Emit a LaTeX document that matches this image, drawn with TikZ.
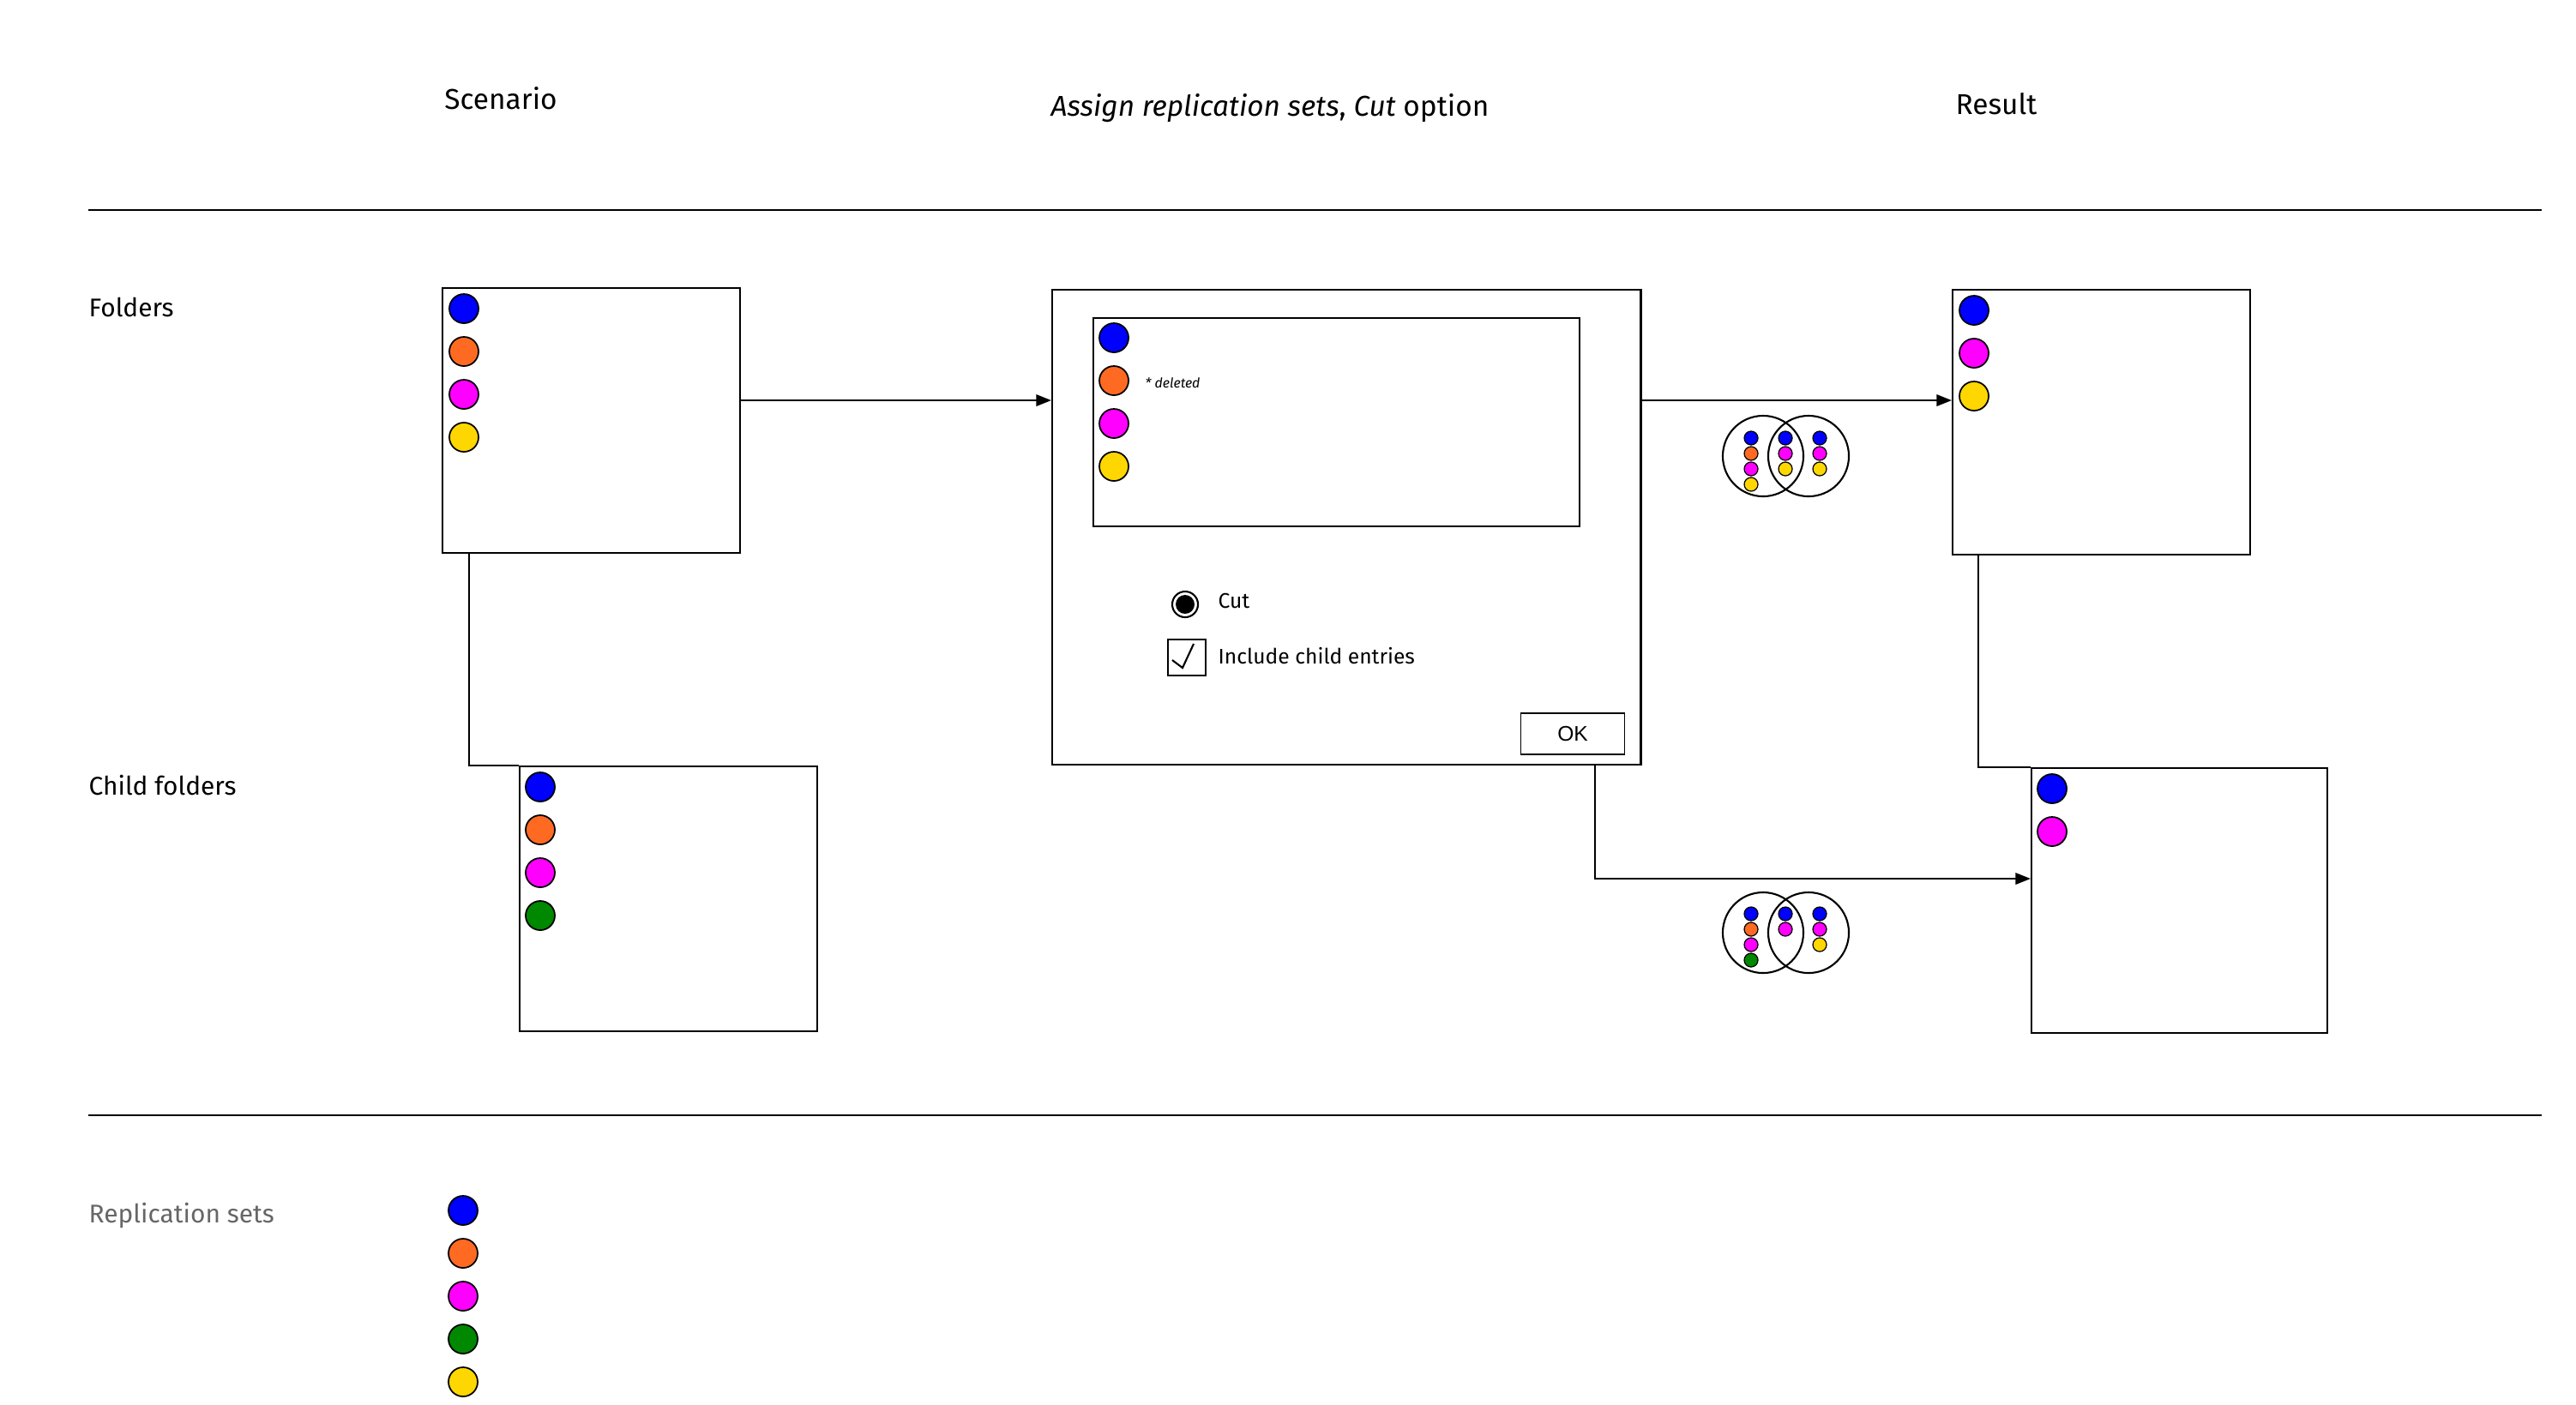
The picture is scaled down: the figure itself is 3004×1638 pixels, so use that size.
\documentclass[tikz,border=0pt]{standalone}
\usepackage{fontspec}
\setmainfont{Fira Sans}
\newfontfamily\buttonfont{Liberation Sans}
\usetikzlibrary{
    arrows.meta,
    positioning,
    calc
}
\definecolor{setblue}{HTML}{0000FF}
\definecolor{setorange}{HTML}{FF6A22}
\definecolor{setmagenta}{HTML}{FF00FF}
\definecolor{setgreen}{HTML}{008800}
\definecolor{setyellow}{HTML}{FFD700}
\definecolor{labelgray}{HTML}{666666}
\tikzset{
    % --- Folder box (scenario / result) ---
    folder box/.style = {
        rectangle, draw, line width=0.6pt, anchor=north west,
        minimum width=3.47cm, minimum height=3.09cm, inner sep=0pt
    },
    % --- Dialog window ---
    dialog/.style = {
        rectangle, draw, line width=0.6pt, anchor=north west,
        minimum width=6.86cm, minimum height=5.54cm, inner sep=0pt
    },
    % --- Replication set dot ---
    set dot/.style = {
        circle, draw, line width=0.5pt,
        minimum size=0.34cm, inner sep=0pt
    },
    % --- Small dot inside the overlap sketch ---
    mini dot/.style = {
        set dot, line width=0.35pt, minimum size=0.16cm
    },
    % --- Overlap circle ---
    overlap/.style = {
        circle, draw, line width=0.6pt,
        minimum size=0.94cm, inner sep=0pt
    },
    % --- Column heading ---
    heading/.style = {
        font=\fontsize{9.5}{11}\selectfont
    },
    % --- Row label (left margin) ---
    row label/.style = {
        anchor=west, font=\fontsize{8.5}{10}\selectfont
    },
    % --- Text inside the dialog ---
    dlg text/.style = {
        anchor=west, font=\fontsize{7}{8}\selectfont, inner sep=0pt
    },
    % --- Connector with arrow ---
    flow/.style = {
        -{Triangle[length=5pt, width=3.8pt]}, line width=0.6pt
    },
    % --- Plain connector ---
    link/.style = {
        line width=0.6pt
    }
}

\begin{document}
\begin{tikzpicture}[x=0.01cm, y=-0.01cm]

\useasboundingbox (0,0) rectangle (3004,1638);

% ---------------------------------------------------------
% Column headings and rules
% ---------------------------------------------------------
\node[heading] (hScenario) at (584,115) {Scenario};
\node[heading] (hAssign) at (1481,126) {\textit{Assign replication sets}, \textit{Cut} option};
\node[heading] (hResult) at (2328,121) {Result};

\draw[link] (103,245) -- (2964,245);
\draw[link] (103,1301) -- (2964,1301);

% Row labels
\node[row label, inner sep=0pt] (lFolders) at (103,358) {Folders};
\node[row label, inner sep=0pt] (lChild) at (103,916) {Child folders};
\node[row label, inner sep=0pt, text=labelgray] (lSets) at (103,1418) {Replication sets};

% ---------------------------------------------------------
% Scenario
% ---------------------------------------------------------
\node[folder box] (folders) at (515,335) {};
\node[folder box] (child) at (605,893) {};

\foreach \c [count=\i from 0] in {setblue,setorange,setmagenta,setyellow}
    \node[set dot, fill=\c] (fdot\i) at ($(folders.north west)+(26,25+50*\i)$) {};
\foreach \c [count=\i from 0] in {setblue,setorange,setmagenta,setgreen}
    \node[set dot, fill=\c] (cdot\i) at ($(child.north west)+(25,25+50*\i)$) {};

\coordinate (fBranch) at (547,0);
\draw[link] (folders.south -| fBranch) |- (child.north west);

% ---------------------------------------------------------
% Dialog
% ---------------------------------------------------------
\node[dialog] (dlg) at (1226,337) {};
\node[rectangle, draw, line width=0.6pt, anchor=north west,
      minimum width=5.67cm, minimum height=2.43cm, inner sep=0pt]
    (list) at (1274,370) {};

\foreach \c [count=\i from 0] in {setblue,setorange,setmagenta,setyellow}
    \node[set dot, fill=\c] (ldot\i) at ($(list.north west)+(25,24+50*\i)$) {};
\node[dlg text, font=\fontsize{4.5}{5}\selectfont\itshape] (deleted)
    at (1335,447) {* deleted};

% Cut option
\node[circle, draw, line width=0.6pt, minimum size=0.3cm, inner sep=0pt] (radio) at (1382,705) {};
\node[circle, fill=black, minimum size=0.22cm, inner sep=0pt] at (radio) {};
\node[dlg text] (cut) at (1420,701) {Cut};

% Include child entries
\node[rectangle, draw, line width=0.6pt, minimum width=0.44cm, minimum height=0.42cm,
      inner sep=0pt] (check) at (1384,767) {};
\draw[line width=0.6pt] ($(check.center)+(-17,3)$) -- ($(check.center)+(-5,12)$)
    -- ($(check.center)+(8,-16)$);
\node[dlg text] (child entries) at (1420,765) {Include child entries};

% OK button
\node[rectangle, draw, line width=0.5pt, minimum width=1.21cm, minimum height=0.48cm,
      font=\buttonfont\fontsize{7}{8}\selectfont] (ok) at (1834,856) {OK};

% ---------------------------------------------------------
% Result
% ---------------------------------------------------------
\node[folder box] (result) at (2276,337) {};
\node[folder box, minimum width=3.45cm] (resultChild) at (2368,895) {};

\foreach \c [count=\i from 0] in {setblue,setmagenta,setyellow}
    \node[set dot, fill=\c] (rdot\i) at ($(result.north west)+(26,25+50*\i)$) {};
\foreach \c [count=\i from 0] in {setblue,setmagenta}
    \node[set dot, fill=\c] (rcdot\i) at ($(resultChild.north west)+(25,25+50*\i)$) {};

\coordinate (rBranch) at (2307,0);
\draw[link] (result.south -| rBranch) |- (resultChild.north west);

% ---------------------------------------------------------
% Data flow arrows
% ---------------------------------------------------------
\coordinate (topRow) at (0,467);
\coordinate (lowRow) at (1860,1025);

\draw[flow] (folders.east |- topRow) -- (dlg.west |- topRow);
\draw[flow] (dlg.east |- topRow) -- (result.west |- topRow);
\draw[flow] (dlg.south -| lowRow) |- (resultChild.west |- lowRow);

% ---------------------------------------------------------
% Overlap sketches
% ---------------------------------------------------------
\node[overlap] (vennA1) at (2056,532) {};
\node[overlap] (vennA2) at (2109,532) {};
\foreach \c [count=\i from 0] in {setblue,setorange,setmagenta,setyellow}
    \node[mini dot, fill=\c] at (2042,511+18*\i) {};
\foreach \c [count=\i from 0] in {setblue,setmagenta,setyellow} {
    \node[mini dot, fill=\c] at (2082,511+18*\i) {};
    \node[mini dot, fill=\c] at (2122,511+18*\i) {};
}

\node[overlap] (vennB1) at (2056,1088) {};
\node[overlap] (vennB2) at (2109,1088) {};
\foreach \c [count=\i from 0] in {setblue,setorange,setmagenta,setgreen}
    \node[mini dot, fill=\c] at (2042,1066+18*\i) {};
\foreach \c [count=\i from 0] in {setblue,setmagenta}
    \node[mini dot, fill=\c] at (2082,1066+18*\i) {};
\foreach \c [count=\i from 0] in {setblue,setmagenta,setyellow}
    \node[mini dot, fill=\c] at (2122,1066+18*\i) {};

% ---------------------------------------------------------
% Legend
% ---------------------------------------------------------
\foreach \c [count=\i from 0] in {setblue,setorange,setmagenta,setgreen,setyellow}
    \node[set dot, fill=\c] (legend\i) at (540,1412+50*\i) {};

\end{tikzpicture}
\end{document}
